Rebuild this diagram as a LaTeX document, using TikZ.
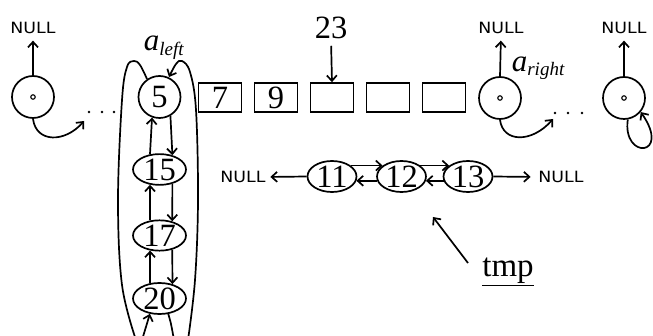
\documentclass[tikz,border=0pt]{standalone}
\usepackage{fontspec}
\setmainfont{Liberation Serif}
\newfontfamily\nlfont{DejaVu Sans}
\usetikzlibrary{arrows.meta,shapes.geometric}
\newcommand{\nulltxt}{\scalebox{1.12}[1]{NULL}}
\begin{document}
\begin{tikzpicture}[x=1pt,y=-1pt, line width=1.7pt,
  tip/.style={-{Straight Barb[length=5.5pt,width=10pt]}},
  circ/.style={circle, draw, minimum size=42pt, inner sep=0pt},
  ell/.style={ellipse, draw, minimum width=53pt, minimum height=25pt, inner sep=0pt},
  lell/.style={ellipse, draw, minimum width=49pt, minimum height=31pt, inner sep=0pt},
  box/.style={rectangle, draw, minimum width=43pt, minimum height=29pt, inner sep=0pt},
  num/.style={font=\fontsize{32.5}{32.5}\selectfont},
  nul/.style={font=\nlfont\fontsize{15.5}{15.5}\selectfont, inner sep=0pt},
  dotc/.style={circle, fill, inner sep=0pt, minimum size=2.6pt},
  cen/.style={circle, draw, line width=1.1pt, inner sep=0pt, minimum size=4.5pt}]
\useasboundingbox (0,0) rectangle (653,336);

% left circle
\node[circ] (A) at (33,97) {};
\node[cen] at (A.center) {};
\node[nul] (nA) at (33,28) {\nulltxt};
\draw[tip, shorten >=6pt] (A.north) -- (nA.south);
\coordinate (dA) at (84,121);
\draw[tip] (A.south) .. controls (36,143) and (65,143) .. (dA);
\node[dotc] (d1) at (89,112) {};
\node[dotc] (d2) at (102,112) {};
\node[dotc] (d3) at (114,112) {};

% column 5,15,17,20
\node[circ,num] (n5) at (159.5,97) {5};
\node[ell,num] (n15) at (159.5,169.5) {15};
\node[ell,num] (n17) at (159.5,235.5) {17};
\node[ell,num] (n20) at (159.5,298.5) {20};
\draw[tip] (n15.122) -- (n5.250);
\draw[tip] (n17.122) -- (n15.238);
\draw[tip] (n20.122) -- (n17.238);
\draw[tip] (n5.300) -- (n15.48);
\draw[tip] (n15.312) -- (n17.48);
\draw[tip] (n17.312) -- (n20.48);
\coordinate (b20) at (142,340);
\draw[tip] (b20) -- (n20.238);

% band
\draw plot[smooth, tension=0.6] coordinates {(147,79) (140,65) (134,61) (127,67) (122,100) (118,200) (122,285) (136,340)};
\draw[tip] plot[smooth, tension=0.6] coordinates {(188,340) (195,280) (198,200) (196,110) (190,72) (182,61) (176,64) (169,77)};
\draw plot[smooth] coordinates {(168,313) (171,324) (174,340)};

% a_left
\node[anchor=base west, inner sep=0pt] (al) at (143,51)
  {\fontsize{31}{31}\selectfont\textit{a}\raisebox{-5pt}{\fontsize{19}{19}\selectfont\textit{left}}};

% boxes
\node[box,num] (b1) at (220,97.5) {7};
\node[box,num] (b2) at (276,97.5) {9};
\node[box] (b3) at (332,97.5) {};
\node[box] (b4) at (388,97.5) {};
\node[box] (b5) at (444,97.5) {};
\node[num, inner sep=0pt] (t23) at (331,28) {23};
\draw[tip, shorten <=6pt] (t23.south) -- (b3.north);

% right circle B
\node[circ] (B) at (500,98) {};
\node[cen] at (B.center) {};
\node[nul] (nB) at (501,28) {\nulltxt};
\draw[tip, shorten >=6pt] (B.north) -- (nB.south);
\node[anchor=base west, inner sep=0pt] (ar) at (511,72)
  {\fontsize{31}{31}\selectfont\textit{a}\raisebox{-4pt}{\fontsize{19}{19}\selectfont\textit{right}}};
\coordinate (dB) at (553,119);
\draw[tip] (B.south) .. controls (503,143) and (532,143) .. (dB);
\node[dotc] (e1) at (555,113) {};
\node[dotc] (e2) at (568,113) {};
\node[dotc] (e3) at (582,113) {};

% right-most circle C
\node[circ] (C) at (624,98) {};
\node[cen] at (C.center) {};
\node[nul] (nC) at (624,28) {\nulltxt};
\draw[tip, shorten >=6pt] (C.north) -- (nC.south);
\draw[tip] (C.280) .. controls (622,160) and (672,157) .. (C.-40);

% 11 12 13
\node[lell,num] (n11) at (332,176.5) {11};
\node[lell,num] (n12) at (401.5,176.5) {12};
\node[lell,num] (n13) at (468,176.5) {13};
\draw[tip] (n11.30) -- (n12.150);
\draw[tip] (n12.190) -- (n11.350);
\draw[tip] (n12.30) -- (n13.150);
\draw[tip] (n13.190) -- (n12.350);
\node[nul] (nL) at (243,177) {\nulltxt};
\draw[tip, shorten >=4pt] (n11.west) -- (nL.east);
\node[nul] (nR) at (561,177) {\nulltxt};
\draw[tip, shorten >=7pt] (n13.east) -- (nR.west);

% tmp
\node[anchor=base, inner sep=0pt, font=\fontsize{33}{33}\selectfont] (tmp) at (508,277) {\underline{tmp}};
\coordinate (tmpS) at (468,263);
\coordinate (tmpE) at (433,217);
\draw[tip] (tmpS) -- (tmpE);
\end{tikzpicture}
\end{document}
